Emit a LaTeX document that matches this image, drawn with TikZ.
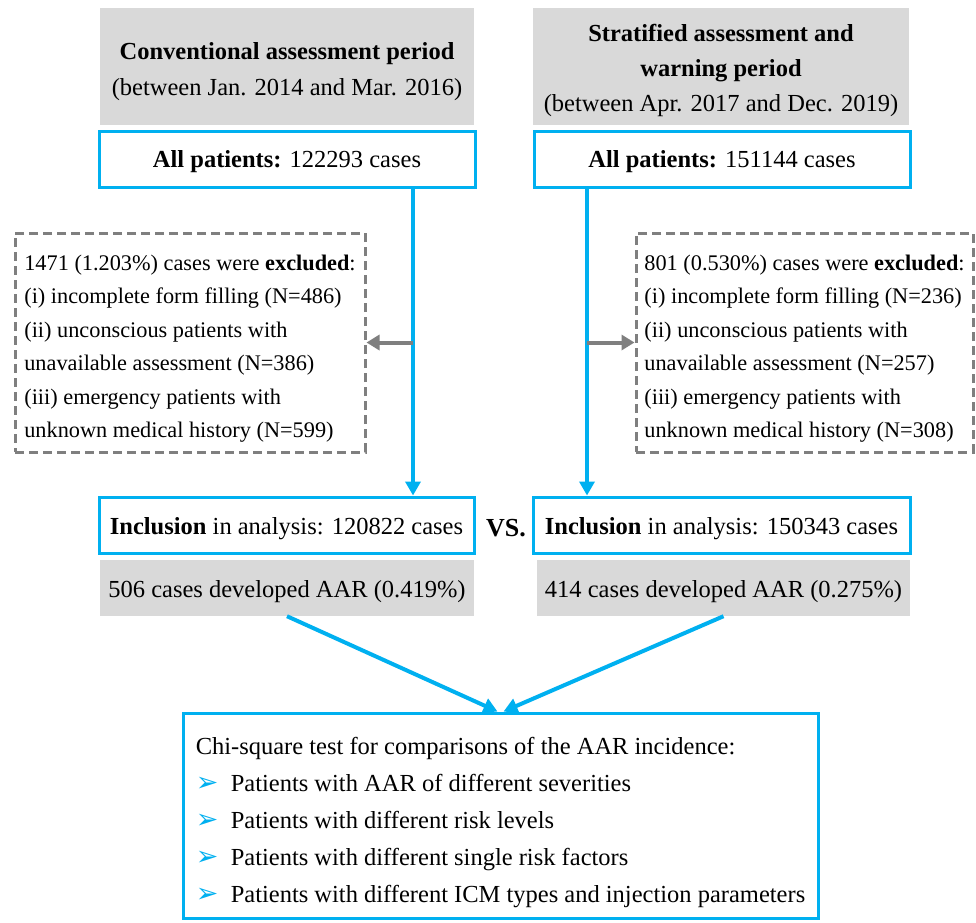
\documentclass[tikz,border=0pt]{standalone}
\usepackage{fontspec}
\setmainfont{Liberation Serif}
\newfontfamily\symfont{DejaVu Sans}
\usetikzlibrary{arrows.meta}
\definecolor{aqua}{HTML}{00B0F0}
\definecolor{hdrgray}{HTML}{D9D9D9}
\definecolor{dashgray}{HTML}{7F7F7F}
\newcommand{\bul}{\makebox[35pt][l]{\textcolor{aqua}{\symfont\fontsize{27}{27}\selectfont ➢}}}
\begin{document}
\begin{tikzpicture}[x=1pt,y=-1pt,
  txt/.style={font=\fontsize{24.5}{36}\selectfont, align=center, inner sep=0pt},
  smalltxt/.style={font=\fontsize{22.3}{33.5}\selectfont, align=left, inner sep=0pt},
  hdr/.style={fill=hdrgray, minimum height=117pt, inner sep=0pt},
  bluebox/.style={draw=aqua, line width=3pt, minimum height=56pt, fill=white, inner sep=0pt},
  graybox/.style={fill=hdrgray, minimum height=56pt, inner sep=0pt},
  exbox/.style={draw=dashgray, line width=3pt, dash pattern=on 9pt off 5pt, minimum height=219pt, inner sep=0pt},
  flow/.style={draw=aqua, line width=4pt, -{Triangle[length=14pt,width=15pt]}},
  side/.style={draw=dashgray, line width=4pt, -{Triangle[length=13pt,width=15pt]}}
]
\useasboundingbox[fill=white] (0,0) rectangle (976,922);

% headers
\node[hdr, minimum width=374pt] (h1) at (287,66.5) {};
\node[txt] (h1t) at ([yshift=-5pt]h1.center) {\textbf{Conventional assessment period}\\(between Jan. 2014 and Mar. 2016)};
\node[hdr, minimum width=376pt] (h2) at (721,66.5) {};
\node[txt, font=\fontsize{24.5}{35}\selectfont] (h2t) at ([yshift=-4pt]h2.center) {\textbf{Stratified assessment and}\\\textbf{warning period}\\(between Apr. 2017 and Dec. 2019)};

% all patients
\node[bluebox, minimum width=376pt] (a1) at (287,159) {};
\node[txt] (a1t) at ([yshift=-3pt]a1.center) {\textbf{All patients:} 122293 cases};
\node[bluebox, minimum width=376pt] (a2) at (722,159) {};
\node[txt] (a2t) at ([yshift=-3pt]a2.center) {\textbf{All patients:} 151144 cases};

% excluded
\node[exbox, minimum width=350pt] (x1) at (190,342.5) {};
\node[smalltxt] (x1t) at ([yshift=-6pt]x1.center) {1471 (1.203\%) cases were \textbf{excluded}:\\(i) incomplete form filling (N=486)\\(ii) unconscious patients with\\unavailable assessment (N=386)\\(iii) emergency patients with\\unknown medical history (N=599)};
\node[exbox, minimum width=337pt] (x2) at (804.5,342.5) {};
\node[smalltxt] (x2t) at ([yshift=-6pt]x2.center) {801 (0.530\%) cases were \textbf{excluded}:\\(i) incomplete form filling (N=236)\\(ii) unconscious patients with\\unavailable assessment (N=257)\\(iii) emergency patients with\\unknown medical history (N=308)};

% inclusion
\node[bluebox, minimum width=375pt] (i1) at (286.5,525) {};
\node[txt] (i1t) at ([yshift=-4pt]i1.center) {\textbf{Inclusion} in analysis: 120822 cases};
\node[bluebox, minimum width=377pt] (i2) at (721.5,525) {};
\node[txt] (i2t) at ([yshift=-4pt]i2.center) {\textbf{Inclusion} in analysis: 150343 cases};
\node[txt, font=\fontsize{26}{26}\selectfont\bfseries] (vs) at (506,528) {VS.};

% AAR
\node[graybox, minimum width=374pt] (g1) at (287,588) {};
\node[txt] (g1t) at ([yshift=-4pt]g1.center) {506 cases developed AAR (0.419\%)};
\node[graybox, minimum width=373pt] (g2) at (723.5,588) {};
\node[txt] (g2t) at ([yshift=-4pt]g2.center) {414 cases developed AAR (0.275\%)};

% chi-square
\node[draw=aqua, line width=3pt, minimum width=635pt, minimum height=205pt, inner sep=0pt] (c) at (500.5,815.5) {};
\node[txt, align=left, font=\fontsize{24.5}{37}\selectfont] (ct) at ([yshift=-7pt]c.center)
  {Chi-square test for comparisons of the AAR incidence:\\
   \bul Patients with AAR of different severities\\
   \bul Patients with different risk levels\\
   \bul Patients with different single risk factors\\
   \bul Patients with different ICM types and injection parameters};

\coordinate (L) at (413,0);
\coordinate (R) at (587,0);
\draw[flow] (a1.south -| L) -- (i1.north -| L);
\draw[flow] (a2.south -| R) -- (i2.north -| R);
\draw[side] (x1.east -| L) -- (x1.east);
\draw[side] (x2.west -| R) -- (x2.west);
\draw[flow] (g1.south) -- ([xshift=-3pt]c.north);
\draw[flow] (g2.south) -- ([xshift=3pt]c.north);
\end{tikzpicture}
\end{document}
